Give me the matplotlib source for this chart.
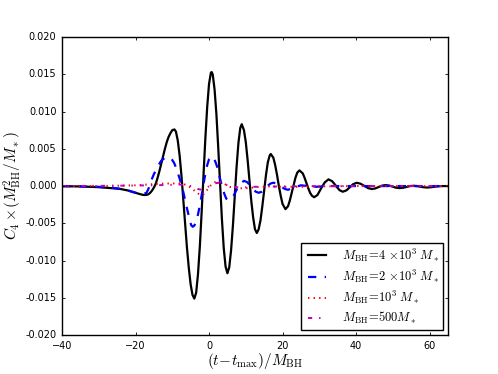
import matplotlib
matplotlib.use('Agg')
import matplotlib.pyplot as plt

plt.style.use('classic')
plt.rcParams['mathtext.fontset'] = 'cm'
plt.rcParams['font.family'] = ['DejaVu Sans']

# M_BH = 4e3 M_* (black)
t_4e3 = [-40, -35, -30, -26, -24, -22, -20, -19, -18, -17.4, -17, -16.5, -16, -15.5, -15,
         -14.5, -14, -13.5, -13, -12.5, -12, -11.5, -11, -10.5, -10, -9.4,
         -9, -8.5, -8, -7.5, -7, -6.5, -6, -5.5, -5, -4.5, -4,
         -3.5, -3, -2.5, -2, -1.5, -1, -0.5, 0, 0.5, 0.7,
         1, 1.5, 2, 2.5, 3, 3.5, 4, 4.5, 5,
         5.5, 6, 6.5, 7, 7.5, 8, 8.5, 8.9,
         9.5, 10, 10.5, 11, 11.5, 12, 12.5, 13,
         13.5, 14, 14.5, 15, 15.5, 16, 16.5, 16.8,
         17.5, 18, 18.5, 19, 19.5, 20, 20.8,
         21.5, 22, 22.5, 23, 23.5, 24, 24.6,
         25.5, 26, 26.5, 27, 27.5, 28, 28.6,
         29.5, 30.5, 31.5, 32.5, 33.5, 34.5, 35.5, 36.4,
         37.4, 38.3, 39.2, 40.2, 41.2, 42.25, 43.3, 44.3,
         45.2, 46.15, 47.1, 48, 49, 49.9, 50.8, 51.8,
         52.8, 53.7, 54.6, 55.6, 56.5, 57.5, 58.4, 59.3,
         60.5, 61.5, 62.5, 63.5, 65]
c_4e3 = [-0.00002, -0.00005, -0.00015, -0.0003, -0.0004, -0.0006, -0.0009, -0.00105, -0.00118, -0.0012,
         -0.00118, -0.0011, -0.0009, -0.0006, -0.0002,
         0.0003, 0.0011, 0.0020, 0.0030, 0.0040, 0.0050, 0.0059, 0.0066, 0.0071, 0.0075, 0.0076,
         0.0073, 0.0061, 0.0041, 0.0014, -0.0018, -0.0051, -0.0083, -0.0110, -0.0132, -0.0146, -0.0151,
         -0.0143, -0.0118, -0.0081, -0.0034, 0.0016, 0.0064, 0.0106, 0.0137, 0.0152, 0.0153,
         0.0150, 0.0130, 0.0097, 0.0052, 0.0003, -0.0044, -0.0083, -0.0108, -0.0117,
         -0.0109, -0.0086, -0.0053, -0.0013, 0.0026, 0.0058, 0.0078, 0.0083,
         0.0075, 0.0059, 0.0035, 0.0007, -0.0020, -0.0042, -0.0058, -0.0063,
         -0.0058, -0.0046, -0.0027, -0.0006, 0.0015, 0.0032, 0.0041, 0.0043,
         0.0038, 0.0028, 0.0015, 0.0000, -0.0013, -0.0024, -0.0031,
         -0.0027, -0.0019, -0.0009, 0.0001, 0.0011, 0.0018, 0.0021,
         0.0017, 0.0011, 0.0004, -0.0003, -0.0009, -0.0013, -0.0015,
         -0.0012, -0.0003, 0.0005, 0.0009, 0.00065, 0.00004, -0.00055, -0.00076,
         -0.00057, -0.00016, 0.00025, 0.00044, 0.00032, 0.00002, -0.00028, -0.0004,
         -0.00032, -0.00013, 0.00006, 0.00013, 0.00007, -0.00007, -0.00021, -0.00027,
         -0.00023, -0.00012, -0.00001, 0.00004, 0.0, -0.00008, -0.00016, -0.0002,
         -0.00015, -0.00008, -0.00003, 0.0, 0.0]

# M_BH = 2e3 M_* (blue dashed)
t_2e3 = [-40, -30, -25, -22, -20, -18, -17, -16.5, -16, -15.5, -15, -14.5, -14, -13.5, -13,
         -12.5, -12, -11.1, -10.5, -10, -9.5, -9, -8.5, -8, -7.5, -7, -6.5, -6, -5.5, -5,
         -4.8, -4.4, -4, -3.5, -3, -2.5, -2, -1.5, -1, -0.5, 0, 0.7,
         1.2, 1.7, 2.2, 2.7, 3.2, 3.7, 4.2, 4.7, 5.3,
         6, 6.8, 7.6, 8.4, 9.5, 10.3, 11.1, 11.9, 12.7, 13.5,
         14.3, 15.1, 15.9, 16.7, 17.5, 18.3, 19.1, 19.9, 20.7, 21.5,
         23, 25, 27, 29, 32, 40, 65]
c_2e3 = [0.0, -0.0001, -0.0003, -0.0006, -0.0009, -0.0011, -0.0009, -0.0004, 0.0004, 0.0010, 0.0016,
         0.0021, 0.0026, 0.0030, 0.0034, 0.0036, 0.0038, 0.00385, 0.0038, 0.0035, 0.0031, 0.0025,
         0.0018, 0.0010, 0.0002, -0.0008, -0.0019, -0.0030, -0.0040, -0.0050,
         -0.0053, -0.00546, -0.0053, -0.0048, -0.0038, -0.0026, -0.0012, 0.0003, 0.0016, 0.0028,
         0.0036, 0.0040,
         0.0038, 0.0033, 0.0026, 0.0016, 0.0006, -0.0003, -0.0011, -0.0017, -0.0019,
         -0.0017, -0.0012, -0.0004, 0.0003, 0.0007, 0.00055, 0.00015, -0.00035, -0.00075, -0.0009,
         -0.00077, -0.00043, 0.0, 0.00033, 0.00045, 0.00036, 0.00013, -0.00017, -0.0004, -0.0005,
         -0.0002, 0.0001, 0.0, -0.0001, 0.0, 0.0, 0.0]

# M_BH = 1e3 M_* (red dotted)
t_1e3 = [-40, -30, -25, -20, -17, -14, -11, -8, -6.5, -5, -4, -3, -2.2, -1.5, -0.5, 0.5,
         1.5, 2.5, 3.5, 4.5, 5.5, 7, 8.5, 10, 12, 14, 17, 20, 25, 30, 40, 50, 65]
c_1e3 = [0.0, 0.0, 0.00005, 0.0001, 0.0002, 0.0003, 0.00035, 0.00035, 0.0002, -0.0002, -0.0006,
         -0.0010, -0.0012, -0.0011, -0.0005, 0.0001, 0.0005, 0.0006, 0.0005, 0.0002, -0.0001,
         -0.0002, -0.0003, -0.0003, -0.0002, -0.0001, -0.00005, -0.0001, -0.0001, -0.00005,
         0.0, 0.0, 0.0]

# M_BH = 500 M_* (magenta dash-dot)
t_500 = [-40, -25, -15, -8, -5, -3, -2, -1, 0.5, 2, 3, 4.5, 6, 9, 12, 20, 30, 65]
c_500 = [0.0, 0.00005, 0.0001, 0.0002, 0.0, -0.0004, -0.0005, -0.0003, 0.0001, 0.0004,
         0.00045, 0.0002, -0.0001, -0.0002, -0.0001, -0.00005, 0.0, 0.0]

labels = [r'$M_{\rm BH}\!=\!4\,\times\!10^3\;M_*$',
          r'$M_{\rm BH}\!=\!2\,\times\!10^3\;M_*$',
          r'$M_{\rm BH}\!=\!10^3\;M_*$',
          r'$M_{\rm BH}\!=\!500M_*$']

fig = plt.figure(figsize=(4.98, 3.74), dpi=100, facecolor='white')
ax = fig.add_axes([0.1245, 0.104, 0.775, 0.797])

ax.plot(t_4e3, c_4e3, color='k', linestyle='-', linewidth=1.6, label=labels[0])
ax.plot(t_2e3, c_2e3, color='b', linestyle='--', linewidth=1.6, label=labels[1])
ax.plot(t_1e3, c_1e3, color='r', linestyle=':', linewidth=1.4, label=labels[2])
ax.plot(t_500, c_500, color='m', linestyle='-.', linewidth=1.4, label=labels[3])

ax.set_xlim(-40, 65)
ax.set_ylim(-0.02, 0.02)
ax.set_xticks([-40, -20, 0, 20, 40, 60])
yt = [-0.02, -0.015, -0.01, -0.005, 0, 0.005, 0.01, 0.015, 0.02]
ax.set_yticks(yt)
ax.set_yticklabels(['%.3f' % v for v in yt])
ax.tick_params(labelsize=7, length=2.5, width=0.6, direction='in', top=True, right=True)
ax.tick_params(which='minor', length=0)

ax.set_xlabel(r'$(t\!-\!t_{\rm max})/M_{\rm BH}$', fontsize=11, labelpad=0)
ax.set_ylabel(r'$C_4\times\!(M_{\rm BH}^2/M_*)$', fontsize=11, labelpad=1)

leg = ax.legend(loc='lower right', fontsize=9, frameon=True, fancybox=False,
                handlelength=2.0, handletextpad=1.0, borderpad=0.3,
                labelspacing=0.32, borderaxespad=0.4, numpoints=2)
leg.get_frame().set_edgecolor('k')

fig.savefig('out.png', dpi=100, facecolor='white')
